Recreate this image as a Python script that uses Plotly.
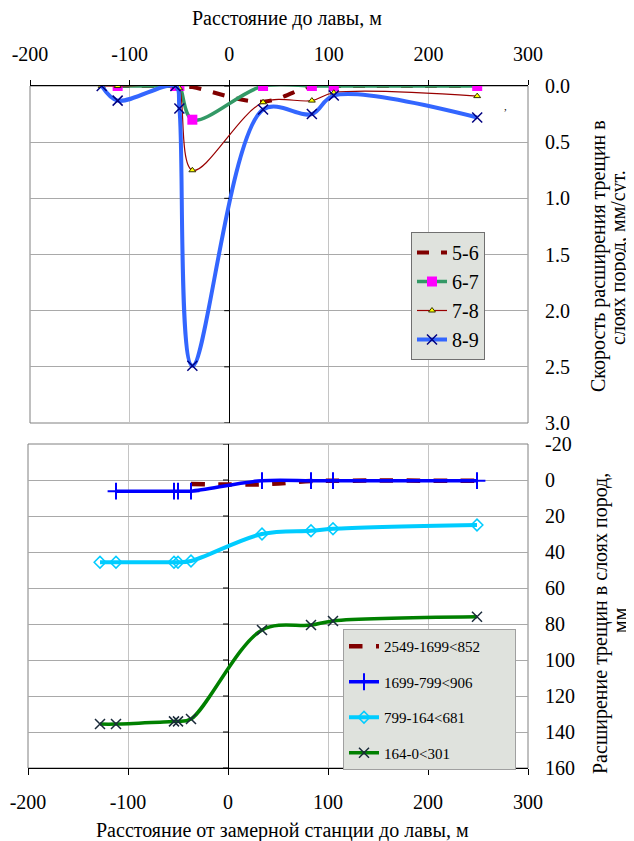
import plotly.graph_objects as go

# ---------------- data ----------------
# top panel: crack opening rate, mm/day (distance to longwall face, m)
x_top_89 = [-128, -112, -54, -50, -37, 34, 83, 105, 249]
rate_89 = [0.0, 0.13, 0.0, 0.2, 2.49, 0.21, 0.25, 0.085, 0.28]

x_top_78 = [-128, -112, -54, -50, -37, 34, 83, 105, 249]
rate_78 = [0.0, 0.0, 0.0, 0.02, 0.75, 0.145, 0.13, 0.06, 0.09]

x_top_67 = [-112, -54, -50, -37, 34, 83, 105, 249]
rate_67 = [0.0, 0.0, 0.0, 0.3, 0.0, 0.0, 0.0, 0.0]

x_top_56 = [-112, -54, -50, -37, 34, 83, 105, 249]
rate_56 = [0.0, 0.0, 0.0, 0.01, 0.14, 0.0, 0.0, 0.0]

top_names = ["5-6", "6-7", "7-8", "8-9"]

# bottom panel: crack opening, mm
x_bot_a = [-37, 34, 83, 105, 249]
open_a = [2.2, 2.4, 0.6, 0.4, 0.4]

x_bot_b = [-112, -54, -50, -37, 34, 83, 105, 249]
open_b = [6.2, 6.2, 6.2, 6.2, 0.4, 0.4, 0.4, 0.4]

x_bot_c = [-128, -112, -54, -50, -37, 34, 83, 105, 249]
open_c = [45.7, 45.7, 45.7, 45.7, 45.0, 30.0, 28.2, 27.1, 25.0]

x_bot_d = [-128, -112, -54, -50, -37, 34, 83, 105, 249]
open_d = [135.6, 135.6, 134.1, 134.1, 132.8, 83.3, 80.6, 78.3, 76.0]

bot_names = ["2549-1699<852", "1699-799<906", "799-164<681", "164-0<301"]

x_ticks = [-200, -100, 0, 100, 200, 300]
x_tick_text = ["-200", "-100", "0", "100", "200", "300"]
y_top_ticks = [0.0, 0.5, 1.0, 1.5, 2.0, 2.5, 3.0]
y_top_text = ["0.0", "0.5", "1.0", "1.5", "2.0", "2.5", "3.0"]
y_bot_ticks = [-20, 0, 20, 40, 60, 80, 100, 120, 140, 160]
y_bot_text = ["-20", "0", "20", "40", "60", "80", "100", "120", "140", "160"]

FONT = '"Liberation Serif", "Times New Roman", "DejaVu Serif", serif'
PAD = "\u00a0" * 8  # widens the lower legend box like the reference

fig = go.Figure()

# ---- top traces ----
fig.add_trace(go.Scatter(x=x_top_56, y=rate_56, name=top_names[0], mode="lines",
                         line=dict(color="#800000", width=4, dash="dash", shape="spline"),
                         xaxis="x", yaxis="y", legend="legend", legendgroup="t1"))
fig.add_trace(go.Scatter(x=x_top_67, y=rate_67, name=top_names[1], mode="lines+markers",
                         line=dict(color="#339966", width=3.5, shape="spline"),
                         marker=dict(symbol="square", size=10, color="#FF00FF"),
                         xaxis="x", yaxis="y", legend="legend", legendgroup="t2"))
fig.add_trace(go.Scatter(x=x_top_78, y=rate_78, name=top_names[2], mode="lines+markers",
                         line=dict(color="#990000", width=1.2, shape="spline"),
                         marker=dict(symbol="triangle-up", size=6, color="#FFFF00",
                                     line=dict(color="#333300", width=1)),
                         xaxis="x", yaxis="y", legend="legend", legendgroup="t3"))
fig.add_trace(go.Scatter(x=x_top_89, y=rate_89, name=top_names[3], mode="lines+markers",
                         line=dict(color="#3366FF", width=4, shape="spline"),
                         marker=dict(symbol="x-thin", size=10, color="#000080",
                                     line=dict(color="#000080", width=1.5)),
                         xaxis="x", yaxis="y", legend="legend", legendgroup="t4"))

# ---- bottom traces ----
fig.add_trace(go.Scatter(x=x_bot_a, y=open_a, name=bot_names[0] + PAD, mode="lines",
                         line=dict(color="#800000", width=4.5, dash="dash", shape="spline"),
                         xaxis="x2", yaxis="y2", legend="legend2", legendgroup="b1"))
fig.add_trace(go.Scatter(x=x_bot_b, y=open_b, name=bot_names[1], mode="lines+markers",
                         line=dict(color="#0000FF", width=3.5, shape="spline"),
                         marker=dict(symbol="cross-thin", size=12, color="#0000FF",
                                     line=dict(color="#0000FF", width=2)),
                         xaxis="x2", yaxis="y2", legend="legend2", legendgroup="b2"))
fig.add_trace(go.Scatter(x=x_bot_c, y=open_c, name=bot_names[2], mode="lines+markers",
                         line=dict(color="#00CCFF", width=4, shape="spline"),
                         marker=dict(symbol="diamond-open", size=9, color="#00CCFF",
                                     line=dict(color="#00CCFF", width=1.5)),
                         xaxis="x2", yaxis="y2", legend="legend2", legendgroup="b3"))
fig.add_trace(go.Scatter(x=x_bot_d, y=open_d, name=bot_names[3], mode="lines+markers",
                         line=dict(color="#008000", width=3.5, shape="spline"),
                         marker=dict(symbol="x-thin", size=10, color="#1a2a3a",
                                     line=dict(color="#1a2a3a", width=1.5)),
                         xaxis="x2", yaxis="y2", legend="legend2", legendgroup="b4"))

# ---- geometry (screen pixels; page body has an 8px margin) ----
OFF = 8
W, H = 634 - OFF, 841 - OFF
L = 28 - OFF
R = W - (528 - OFF)
T = 86 - OFF
B = H - (768 - OFF)
plot_w = W - L - R
plot_h = H - T - B


def px_x(p):
    return (p - OFF - L) / plot_w


def px_y(p):
    return (H - B - (p - OFF)) / plot_h


top_dom = [px_y(423), 1.0]
bot_dom = [0.0, px_y(444)]

GRIDV = "#c4c4c4"
GRIDH = "#a9a9a9"
tickfont = dict(family=FONT, size=20, color="black")

fig.update_layout(
    width=W, height=H,
    margin=dict(l=L, r=R, t=T, b=B, autoexpand=False),
    paper_bgcolor="white", plot_bgcolor="white",
    font=dict(family=FONT, size=20, color="black"),
    xaxis=dict(domain=[px_x(30), 1.0], anchor="y", side="top", range=[-200, 300],
               tickvals=x_ticks, ticktext=x_tick_text, showgrid=True, gridcolor=GRIDV,
               gridwidth=1, zeroline=True, zerolinecolor="black", zerolinewidth=1,
               showline=True, linecolor="black", linewidth=1,
               ticks="outside", ticklen=5, tickcolor="black", tickfont=tickfont,
               ticklabelstandoff=11, ticklabeloverflow="allow"),
    yaxis=dict(domain=top_dom, anchor="x", side="right", range=[3, 0],
               tickvals=y_top_ticks, ticktext=y_top_text, showgrid=True, gridcolor=GRIDH,
               zeroline=False, showline=False, ticks="", tickfont=tickfont,
               ticklabelstandoff=16, ticklabeloverflow="allow"),
    xaxis2=dict(domain=[0.0, 1.0], anchor="y2", side="bottom", range=[-200, 300],
                tickvals=x_ticks, ticktext=x_tick_text, showgrid=True, gridcolor=GRIDV,
                gridwidth=1, zeroline=True, zerolinecolor="black", zerolinewidth=1,
                showline=True, linecolor="black", linewidth=1,
                ticks="outside", ticklen=6, tickcolor="black", tickfont=tickfont,
                ticklabelstandoff=10, ticklabeloverflow="allow"),
    yaxis2=dict(domain=bot_dom, anchor="x2", side="right", range=[160, -20],
                tickvals=y_bot_ticks, ticktext=y_bot_text, showgrid=True, gridcolor=GRIDH,
                zeroline=False, showline=False, ticks="", tickfont=tickfont,
                ticklabelstandoff=16, ticklabeloverflow="allow"),
    legend=dict(x=px_x(411), y=px_y(232), xanchor="left", yanchor="top",
                bgcolor="#dfe2dd", bordercolor="#707070", borderwidth=1,
                font=dict(family=FONT, size=20, color="black"),
                traceorder="grouped", tracegroupgap=0),
    legend2=dict(x=px_x(343), y=px_y(629), xanchor="left", yanchor="top",
                 bgcolor="#dfe2dd", bordercolor="#a0a0a0", borderwidth=1,
                 font=dict(family=FONT, size=15, color="black"),
                 traceorder="grouped", tracegroupgap=13),
    showlegend=True,
)

shapes = []
# frames
for xr, yr in (("x", "y"), ("x2", "y2")):
    shapes.append(dict(type="rect", xref=xr + " domain", yref=yr + " domain",
                       x0=0, x1=1, y0=0, y1=1, line=dict(color="#808080", width=1),
                       layer="below"))
# y-axis tick marks on the x=0 line
for v in y_top_ticks:
    shapes.append(dict(type="line", xref="x", yref="y", xsizemode="pixel", xanchor=0,
                       x0=-5, x1=0, y0=v, y1=v, line=dict(color="black", width=1)))
for v in y_bot_ticks:
    shapes.append(dict(type="line", xref="x2", yref="y2", xsizemode="pixel", xanchor=0,
                       x0=-5, x1=0, y0=v, y1=v, line=dict(color="black", width=1)))
fig.update_layout(shapes=shapes)

ann_font = dict(family=FONT, size=20, color="black")
annotations = [
    dict(text="Расстояние до лавы, м", xref="paper", yref="paper",
         x=px_x(287), y=px_y(18), showarrow=False, font=ann_font,
         xanchor="center", yanchor="middle"),
    dict(text="Расстояние от замерной станции до лавы, м", xref="paper", yref="paper",
         x=px_x(282), y=px_y(830), showarrow=False, font=ann_font,
         xanchor="center", yanchor="middle"),
    dict(text="Скорость расширения трещин в", xref="paper", yref="paper",
         x=px_x(598), y=px_y(256), showarrow=False, font=ann_font, textangle=-90,
         xanchor="center", yanchor="middle"),
    dict(text="слоях пород, мм/сут.", xref="paper", yref="paper",
         x=px_x(618), y=px_y(258), showarrow=False, font=ann_font, textangle=-90,
         xanchor="center", yanchor="middle"),
    dict(text="Расширение трещин в слоях пород,", xref="paper", yref="paper",
         x=px_x(600), y=px_y(624), showarrow=False, font=ann_font, textangle=-90,
         xanchor="center", yanchor="middle"),
    dict(text="мм", xref="paper", yref="paper",
         x=px_x(620), y=px_y(620), showarrow=False, font=ann_font, textangle=-90,
         xanchor="center", yanchor="middle"),
    dict(text=",", xref="paper", yref="paper",
         x=px_x(505), y=px_y(106), showarrow=False,
         font=dict(family=FONT, size=11, color="black"),
         xanchor="center", yanchor="middle"),
]
fig.update_layout(annotations=annotations)

fig.write_html("out.html")
